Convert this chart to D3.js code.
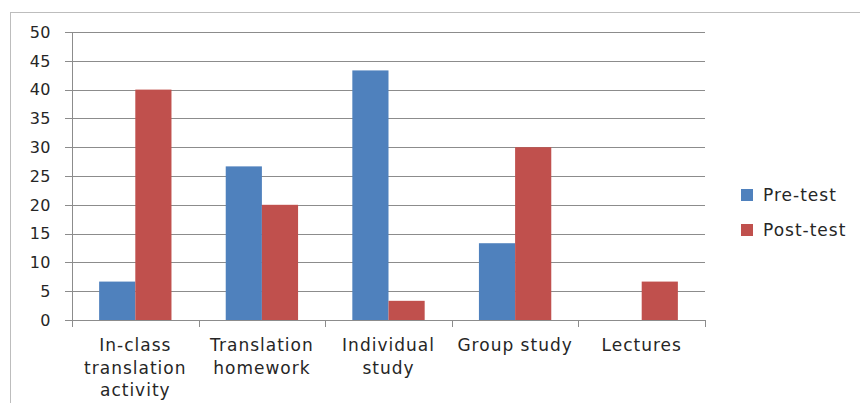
<!DOCTYPE html>
<html>
<head>
<meta charset="utf-8" />
<title>Pre-test vs Post-test</title>
<script src="https://d3js.org/d3.v7.min.js"></script>
<style>
  body { margin: 0; background: #fff; }
  text { font-family: "DejaVu Sans", sans-serif; fill: #262626; }
</style>
</head>
<body>
<svg id="chart" width="860" height="403"></svg>
<script>
// data
var categories = ["In-class translation activity", "Translation homework", "Individual study", "Group study", "Lectures"];
var labelLines = [["In-class", "translation", "activity"], ["Translation", "homework"], ["Individual", "study"], ["Group study"], ["Lectures"]];
var series = ["Pre-test", "Post-test"];
var preTest = [6.67, 26.67, 43.33, 13.33, 0];
var postTest = [40, 20, 3.33, 30, 6.67];
var yTicks = [0, 5, 10, 15, 20, 25, 30, 35, 40, 45, 50];
var colors = ["#4f81bd", "#c0504d"];

var svg = d3.select("#chart");

// outer frame
svg.append("rect")
    .attr("x", 10.5).attr("y", 12.5)
    .attr("width", 880).attr("height", 420)
    .attr("fill", "none").attr("stroke", "#bdbdbd").attr("stroke-width", 1);

var plotLeft = 72, plotRight = 705, plotTop = 32, plotBottom = 320;

var x = d3.scaleBand().domain(categories).range([plotLeft, plotRight]);
var xInner = d3.scaleBand().domain(series).range([0, x.bandwidth()]).paddingInner(0).paddingOuter(0.75);
var y = d3.scaleLinear().domain([0, 50]).range([plotBottom, plotTop]);

// gridlines
svg.append("g").selectAll("line").data(yTicks).enter().append("line")
    .attr("x1", plotLeft - 7).attr("x2", plotRight)
    .attr("y1", function(d) { return Math.round(y(d)) + 0.5; })
    .attr("y2", function(d) { return Math.round(y(d)) + 0.5; })
    .attr("stroke", "#8c8c8c").attr("stroke-width", 1);

// y labels
svg.append("g").selectAll("text").data(yTicks).enter().append("text")
    .attr("x", 51).attr("y", function(d) { return y(d); })
    .attr("dy", "0.36em")
    .attr("text-anchor", "end")
    .style("font-size", "16px")
    .style("letter-spacing", "0.5px")
    .text(function(d) { return d; });

// bars
var groups = svg.append("g").selectAll("g").data(categories).enter().append("g")
    .attr("transform", function(d) { return "translate(" + x(d) + ",0)"; });

groups.selectAll("rect")
    .data(function(d, i) { return [{s: series[0], v: preTest[i]}, {s: series[1], v: postTest[i]}]; })
    .enter().append("rect")
    .attr("x", function(d) { return xInner(d.s); })
    .attr("width", xInner.bandwidth())
    .attr("y", function(d) { return y(d.v); })
    .attr("height", function(d) { return plotBottom - y(d.v); })
    .attr("fill", function(d, i) { return colors[i]; });

// axis lines
svg.append("line")
    .attr("x1", plotLeft + 0.5).attr("x2", plotLeft + 0.5)
    .attr("y1", plotTop).attr("y2", plotBottom + 7)
    .attr("stroke", "#8c8c8c");
svg.append("line")
    .attr("x1", plotLeft).attr("x2", plotRight)
    .attr("y1", plotBottom + 0.5).attr("y2", plotBottom + 0.5)
    .attr("stroke", "#8c8c8c");

var xTicks = categories.map(function(d) { return x(d); }).concat([plotRight]);
svg.append("g").selectAll("line").data(xTicks).enter().append("line")
    .attr("x1", function(d) { return Math.round(d) + 0.5; })
    .attr("x2", function(d) { return Math.round(d) + 0.5; })
    .attr("y1", plotBottom).attr("y2", plotBottom + 7)
    .attr("stroke", "#8c8c8c");

// category labels
var catLabels = svg.append("g").selectAll("text").data(categories).enter().append("text")
    .attr("text-anchor", "middle")
    .style("font-size", "17px")
    .style("letter-spacing", "1px")
    .attr("transform", function(d) { return "translate(" + (x(d) + x.bandwidth() / 2) + ",351)"; });
catLabels.selectAll("tspan")
    .data(function(d, i) { return labelLines[i]; })
    .enter().append("tspan")
    .attr("x", 0)
    .attr("y", function(d, i) { return i * 22.5; })
    .text(function(d) { return d; });

// legend
var legend = svg.append("g").selectAll("g").data(series).enter().append("g")
    .attr("transform", function(d, i) { return "translate(741," + (189 + i * 35) + ")"; });
legend.append("rect")
    .attr("width", 12).attr("height", 12)
    .attr("fill", function(d, i) { return colors[i]; });
legend.append("text")
    .attr("x", 22).attr("y", 6).attr("dy", "0.36em")
    .style("font-size", "17px")
    .style("letter-spacing", "1px")
    .text(function(d) { return d; });
</script>
</body>
</html>
